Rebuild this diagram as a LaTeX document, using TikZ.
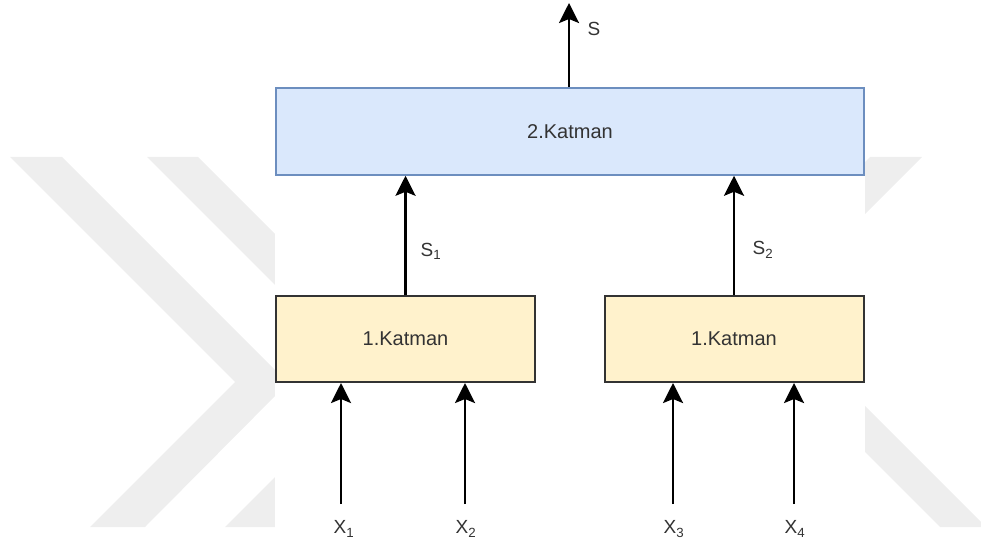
\documentclass[tikz,border=0pt]{standalone}
\usepackage{fontspec}
\setmainfont{Liberation Sans}
\usetikzlibrary{arrows.meta}
\definecolor{wmgrey}{HTML}{EEEEEE}
\definecolor{bluefill}{HTML}{DAE8FC}
\definecolor{blueline}{HTML}{6C8EBF}
\definecolor{yellowfill}{HTML}{FFF2CC}
\definecolor{yellowline}{HTML}{333333}
\definecolor{txt}{HTML}{333333}
\tikzset{
  layerbox/.style={draw, rectangle, inner sep=0pt, font=\fontsize{20}{24}\selectfont, text=txt},
  toplayer/.style={layerbox, fill=bluefill, draw=blueline, line width=1.5pt,
    minimum width=588pt, minimum height=87pt},
  firstlayer/.style={layerbox, fill=yellowfill, draw=yellowline, line width=2pt,
    minimum width=259pt, minimum height=86pt},
  flow/.style={line width=2.8pt, -{Stealth[length=20pt,width=20pt,inset=4pt]}},
  sig/.style={inner sep=0pt, text=txt, font=\fontsize{19}{23}\selectfont}
}
\begin{document}
\begin{tikzpicture}[x=1pt,y=-1pt]
\useasboundingbox (0,0) rectangle (981,548);
% background chevrons
\fill[wmgrey] (10,157) -- (62,157) -- (288,383) -- (145,527) -- (90,527) -- (235,382) -- cycle;
\fill[wmgrey] (147,157) -- (198,157) -- (423,382) -- (278,527) -- (225,527) -- (371,381) -- cycle;
\fill[wmgrey] (870,157) -- (922,157) -- (769,310) -- (986,527) -- (940,527) -- (720,307) -- cycle;
% drawing area
\fill[white] (275,0) rectangle (865,548);

% layers
\node[toplayer] (L2) at (570,131.5) {2.Katman};
\node[firstlayer] (A) at (405.5,339) {1.Katman};
\node[firstlayer] (B) at (734,339) {1.Katman};

% output
\coordinate (sTop) at (569,3);
\draw[flow] (L2.north -| sTop) -- (sTop);
\node[sig] (S) at (594,29) {S};

% first layer outputs
\draw[flow] (A.north) -- (A.north |- L2.south);
\draw[flow] (B.north) -- (B.north |- L2.south);
\node[sig] (S1) at (431,251) {S\textsubscript{1}};
\node[sig] (S2) at (763,250) {S\textsubscript{2}};

% inputs
\coordinate (x1) at (341,504);
\coordinate (x2) at (465,504);
\coordinate (x3) at (673,504);
\coordinate (x4) at (794,504);
\draw[flow] (x1) -- (x1 |- A.south);
\draw[flow] (x2) -- (x2 |- A.south);
\draw[flow] (x3) -- (x3 |- B.south);
\draw[flow] (x4) -- (x4 |- B.south);
\node[sig] (X1) at (344,529) {X\textsubscript{1}};
\node[sig] (X2) at (466,529) {X\textsubscript{2}};
\node[sig] (X3) at (674,529) {X\textsubscript{3}};
\node[sig] (X4) at (795,529) {X\textsubscript{4}};
\end{tikzpicture}
\end{document}
